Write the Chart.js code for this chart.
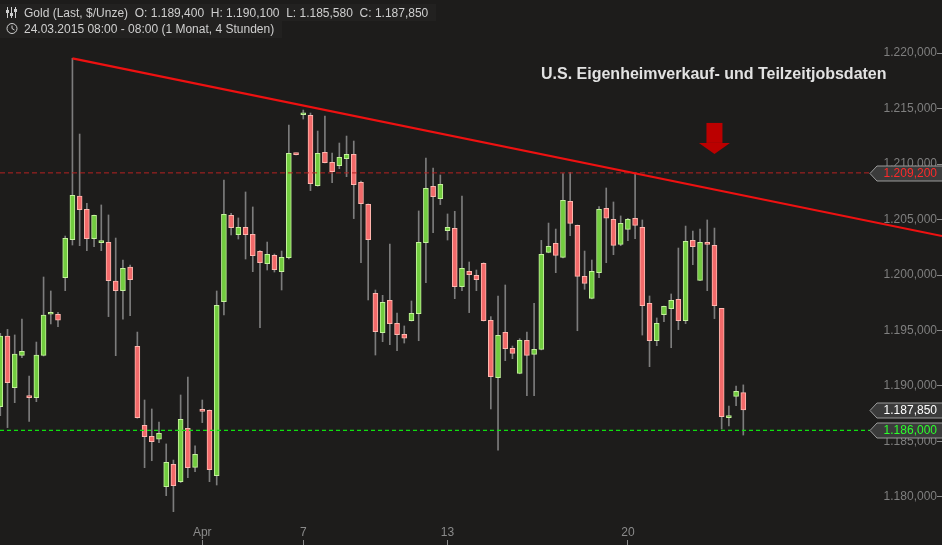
<!DOCTYPE html>
<html>
<head>
<meta charset="utf-8">
<title>Gold 4h</title>
<script src="https://cdn.jsdelivr.net/npm/chart.js@4.4.1/dist/chart.umd.min.js"></script>
<style>
  html, body { margin: 0; padding: 0; background: #1d1c1b; }
  canvas { display: block; }
</style>
</head>
<body>
<canvas id="chart" width="942" height="545"></canvas>
<script>
// Gold (Last, $/Unze), 4h candles
const OPEN = [
  1188.14, 1194.50, 1189.85, 1192.76, 1189.00, 1188.95, 1192.76, 1196.46, 1196.46, 1199.76,
  1203.18, 1207.12, 1205.92, 1203.27, 1202.91, 1202.94, 1199.46, 1198.59, 1200.72, 1193.57,
  1186.46, 1185.47, 1185.20, 1180.93, 1182.94, 1181.38, 1186.19, 1182.67, 1187.90, 1187.81,
  1181.92, 1197.60, 1205.38, 1203.63, 1204.29, 1203.66, 1202.13, 1201.02, 1201.77, 1200.30,
  1201.56, 1210.90, 1214.44, 1214.38, 1208.05, 1211.05, 1210.15, 1209.85, 1210.48, 1210.87,
  1208.35, 1206.37, 1198.35, 1194.80, 1197.72, 1195.65, 1194.66, 1195.89, 1196.52, 1202.91,
  1207.99, 1206.88, 1203.99, 1204.20, 1198.95, 1200.33, 1199.97, 1201.05, 1195.92, 1190.75,
  1194.83, 1193.39, 1191.14, 1194.11, 1192.85, 1193.30, 1202.04, 1202.85, 1201.59, 1206.64,
  1204.47, 1199.88, 1197.90, 1200.21, 1206.01, 1205.02, 1202.76, 1204.11, 1205.11, 1204.29,
  1197.45, 1194.08, 1196.43, 1196.97, 1197.81, 1195.89, 1203.12, 1199.52, 1202.94, 1202.67,
  1197.00, 1187.15, 1189.07, 1189.40
];
const HIGH = [
  1194.74, 1195.10, 1194.60, 1196.03, 1190.90, 1193.96, 1199.82, 1198.56, 1196.64, 1203.51,
  1219.52, 1212.70, 1206.46, 1205.40, 1206.31, 1205.41, 1203.33, 1201.35, 1200.90, 1194.86,
  1188.74, 1187.93, 1186.76, 1184.78, 1183.33, 1189.19, 1190.81, 1184.60, 1188.74, 1187.85,
  1198.56, 1208.56, 1205.56, 1205.14, 1207.48, 1206.13, 1202.20, 1202.97, 1201.89, 1202.16,
  1213.51, 1210.99, 1214.86, 1214.59, 1212.97, 1214.32, 1210.99, 1211.89, 1212.52, 1212.07,
  1208.47, 1206.40, 1198.65, 1198.17, 1202.79, 1196.58, 1195.41, 1197.66, 1205.77, 1210.54,
  1209.64, 1209.01, 1205.50, 1205.74, 1207.12, 1201.17, 1200.45, 1201.10, 1196.25, 1198.11,
  1199.10, 1193.60, 1194.26, 1194.86, 1197.45, 1203.12, 1204.68, 1204.14, 1209.13, 1209.25,
  1204.50, 1202.16, 1201.35, 1206.16, 1207.84, 1206.58, 1205.32, 1205.11, 1209.20, 1204.96,
  1198.11, 1196.13, 1197.20, 1198.29, 1202.43, 1204.41, 1203.96, 1204.14, 1204.96, 1204.23,
  1197.00, 1188.20, 1190.00, 1190.10
];
const LOW = [
  1187.33, 1186.25, 1188.50, 1192.55, 1186.80, 1188.59, 1192.70, 1195.59, 1195.35, 1198.59,
  1202.70, 1202.64, 1202.19, 1202.55, 1202.19, 1196.25, 1192.73, 1196.03, 1196.34, 1187.10,
  1182.64, 1183.27, 1184.90, 1180.12, 1178.68, 1181.30, 1181.74, 1182.28, 1186.70, 1181.38,
  1181.08, 1196.40, 1203.60, 1203.24, 1201.44, 1200.30, 1195.26, 1200.45, 1200.27, 1198.65,
  1201.44, 1210.81, 1214.05, 1207.60, 1208.00, 1210.10, 1208.32, 1209.58, 1208.86, 1205.08,
  1201.11, 1197.75, 1192.79, 1193.99, 1193.72, 1193.18, 1193.87, 1195.85, 1194.08, 1199.31,
  1203.81, 1206.34, 1203.15, 1197.87, 1198.59, 1196.61, 1198.59, 1195.85, 1187.93, 1184.23,
  1192.28, 1192.46, 1191.10, 1189.13, 1189.13, 1193.25, 1202.00, 1200.21, 1201.55, 1203.54,
  1194.98, 1198.71, 1197.85, 1199.76, 1201.11, 1201.83, 1202.64, 1203.09, 1203.27, 1194.59,
  1191.74, 1193.63, 1195.80, 1193.45, 1195.08, 1195.62, 1200.93, 1199.50, 1198.59, 1196.07,
  1186.13, 1186.40, 1188.23, 1185.58
];
const CLOSE = [
  1194.50, 1190.30, 1192.88, 1193.12, 1188.95, 1192.79, 1196.40, 1196.64, 1195.92, 1203.30,
  1207.18, 1205.89, 1203.27, 1205.38, 1203.06, 1199.49, 1198.59, 1200.60, 1199.58, 1187.15,
  1185.44, 1184.99, 1185.74, 1183.12, 1181.02, 1187.00, 1182.64, 1183.84, 1187.72, 1182.46,
  1197.27, 1205.47, 1204.26, 1204.29, 1203.63, 1201.74, 1201.11, 1201.86, 1200.48, 1201.59,
  1210.96, 1210.84, 1214.59, 1208.23, 1210.96, 1210.12, 1209.31, 1210.60, 1210.87, 1208.14,
  1206.43, 1203.18, 1194.89, 1197.54, 1195.62, 1194.63, 1194.30, 1196.55, 1202.94, 1207.81,
  1207.06, 1208.17, 1204.29, 1198.95, 1200.60, 1200.03, 1199.58, 1195.89, 1190.84, 1194.56,
  1193.36, 1192.94, 1194.11, 1192.76, 1193.30, 1201.86, 1202.58, 1201.77, 1206.73, 1204.65,
  1199.88, 1199.25, 1200.33, 1205.92, 1205.11, 1202.67, 1204.65, 1205.02, 1204.47, 1197.24,
  1194.08, 1195.65, 1197.18, 1197.72, 1195.89, 1203.03, 1202.55, 1202.94, 1202.76, 1197.24,
  1187.24, 1187.27, 1189.52, 1187.85
];

// axis ticks
const X_TICKS  = [28, 42, 62, 87];
const X_LABELS = ['Apr', '7', '13', '20'];
const Y_TICKS  = [1180, 1185, 1190, 1195, 1200, 1205, 1210, 1215, 1220];

// drawn lines and marks (candle index / price)
const TREND     = [{ x: 10, y: 1219.52 }, { x: 130.54, y: 1203.51 }];
const RESIST    = 1209.2;
const SUPPORT   = 1186.0;
const LEVEL_END = 120.56;
const ARROW     = { at: 99, top: 1213.7, neck: 1211.9, tip: 1210.9 };
const NOTE      = 'U.S. Eigenheimverkauf- und Teilzeitjobsdaten';

// visible window
const X_MIN = -0.04, X_MAX = 129.85;
const Y_MIN = 1176.126, Y_MAX = 1224.775;

const idx  = OPEN.map((_, i) => i);
const last = OPEN.length - 1;
const up   = idx.map(i => CLOSE[i] >= OPEN[i]);

// 1234.5 -> "1.234,500"
function de (v) {
  const [a, b] = v.toFixed(3).split('.');
  return a.replace(/\B(?=(\d{3})+(?!\d))/g, '.') + ',' + b;
}

function level (v) {
  return [{ x: X_MIN, y: v }, { x: LEVEL_END, y: v }];
}

const FONT = 'Liberation Sans, Arial, sans-serif';

// ---------------------------------------------------------------------------

const overlay = {
  id: 'overlay',
  afterDraw (chart) {
    const { ctx, scales: { x, y } } = chart;
    const W = chart.width;
    ctx.save();

    // header
    ctx.fillStyle = 'rgba(255,255,255,0.025)';
    ctx.fillRect(0, 4, 436, 17);
    ctx.fillRect(0, 21, 282, 17);

    ctx.strokeStyle = '#cfcfcf';
    ctx.fillStyle = '#cfcfcf';
    ctx.lineWidth = 1;
    [7.5, 11.5, 15.5].forEach((cx, k) => {
      ctx.beginPath();
      ctx.moveTo(cx, 7); ctx.lineTo(cx, 18);
      ctx.stroke();
      ctx.fillRect(cx - 1.5, [10, 13, 9][k], 3, 3);
    });
    ctx.beginPath();
    ctx.arc(12, 28.5, 5, 0, Math.PI * 2);
    ctx.stroke();
    ctx.beginPath();
    ctx.moveTo(12, 25.5); ctx.lineTo(12, 28.5); ctx.lineTo(14.5, 30);
    ctx.stroke();

    ctx.font = '12px ' + FONT;
    ctx.textBaseline = 'alphabetic';
    ctx.textAlign = 'left';
    ctx.fillText('Gold (Last, $/Unze)  O: ' + de(OPEN[last]) + '  H: ' + de(HIGH[last]) +
                 '  L: ' + de(LOW[last]) + '  C: ' + de(CLOSE[last]), 24, 16.5);
    ctx.fillText('24.03.2015 08:00 - 08:00 (1 Monat, 4 Stunden)', 24, 32.5);

    // news note + arrow
    ctx.font = 'bold 16px ' + FONT;
    ctx.fillStyle = '#e2e2e2';
    ctx.textBaseline = 'middle';
    ctx.fillText(NOTE, 541, 75);

    const ax = x.getPixelForValue(ARROW.at);
    const yTop = y.getPixelForValue(ARROW.top);
    const yNeck = y.getPixelForValue(ARROW.neck);
    const yTip = y.getPixelForValue(ARROW.tip);
    ctx.fillStyle = '#bb0000';
    ctx.fillRect(ax - 8, yTop, 16, yNeck - yTop);
    ctx.beginPath();
    ctx.moveTo(ax - 15.5, yNeck);
    ctx.lineTo(ax + 15.5, yNeck);
    ctx.lineTo(ax, yTip);
    ctx.closePath();
    ctx.fill();

    // price tags on the right
    const x0 = x.getPixelForValue(LEVEL_END);
    [[RESIST, '#ff2a2a'], [CLOSE[last], '#ffffff'], [SUPPORT, '#2cff2c']].forEach(([v, col]) => {
      const yc = Math.round(y.getPixelForValue(v)) + 0.5;
      ctx.beginPath();
      ctx.moveTo(x0, yc);
      ctx.lineTo(x0 + 7, yc - 7.5);
      ctx.lineTo(W + 1, yc - 7.5);
      ctx.lineTo(W + 1, yc + 7.5);
      ctx.lineTo(x0 + 7, yc + 7.5);
      ctx.closePath();
      ctx.fillStyle = '#3b3b3b';
      ctx.fill();
      ctx.strokeStyle = '#9a9a9a';
      ctx.stroke();
      ctx.font = '12px ' + FONT;
      ctx.fillStyle = col;
      ctx.textAlign = 'right';
      ctx.textBaseline = 'middle';
      ctx.fillText(de(v), W - 5, yc);
    });

    ctx.restore();
  }
};

const noPad = s => { s.paddingTop = s.paddingBottom = s.paddingLeft = s.paddingRight = 0; };

new Chart(document.getElementById('chart'), {
  type: 'bar',
  data: {
    datasets: [
      {
        label: 'wick',
        data: idx.map(i => ({ x: i, y: [LOW[i], HIGH[i]] })),
        backgroundColor: '#7c7c7c',
        barThickness: 1,
        grouped: false,
        order: 4
      },
      {
        label: 'body',
        data: idx.map(i => ({ x: i, y: [OPEN[i], CLOSE[i]] })),
        backgroundColor: up.map(u => u ? '#72cc3f' : '#f26a6a'),
        borderColor: up.map(u => u ? '#c4f29c' : '#ffb6ae'),
        borderWidth: 1,
        borderSkipped: false,
        barThickness: 5,
        minBarLength: 2,
        grouped: false,
        order: 3
      },
      {
        type: 'line',
        label: 'trend',
        data: TREND,
        borderColor: '#ee1111',
        borderWidth: 2.2,
        pointRadius: 0,
        clip: false,
        order: 1
      },
      {
        type: 'line',
        label: 'resistance',
        data: level(RESIST),
        borderColor: '#b52222',
        borderWidth: 1,
        borderDash: [5, 3],
        pointRadius: 0,
        order: 2
      },
      {
        type: 'line',
        label: 'support',
        data: level(SUPPORT),
        borderColor: '#10e010',
        borderWidth: 1.3,
        borderDash: [4, 3],
        pointRadius: 0,
        order: 2
      }
    ]
  },
  options: {
    responsive: false,
    animation: false,
    layout: { padding: 0 },
    plugins: { legend: { display: false }, tooltip: { enabled: false } },
    events: [],
    scales: {
      x: {
        type: 'linear',
        position: 'bottom',
        min: X_MIN,
        max: X_MAX,
        bounds: 'data',
        offset: false,
        border: { display: false },
        grid: { drawOnChartArea: false, drawTicks: true, tickLength: 5, tickColor: '#8a8a8a', offset: false },
        ticks: {
          mirror: true,
          padding: 0,
          autoSkip: false,
          maxRotation: 0,
          color: '#8a8a8a',
          font: { family: FONT, size: 12 },
          callback: (v, i) => X_LABELS[i]
        },
        afterBuildTicks: s => { s.ticks = X_TICKS.map(v => ({ value: v })); },
        afterFit: noPad
      },
      y: {
        type: 'linear',
        position: 'right',
        min: Y_MIN,
        max: Y_MAX,
        bounds: 'data',
        beginAtZero: false,
        border: { display: false },
        grid: { drawOnChartArea: false, drawTicks: true, tickLength: 5, tickColor: '#8a8a8a' },
        ticks: {
          mirror: true,
          padding: 0,
          color: '#7f7f7f',
          font: { family: FONT, size: 12 },
          callback: v => de(v)
        },
        afterBuildTicks: s => { s.ticks = Y_TICKS.map(v => ({ value: v })); },
        afterFit: noPad
      }
    }
  },
  plugins: [overlay]
});
</script>
</body>
</html>
